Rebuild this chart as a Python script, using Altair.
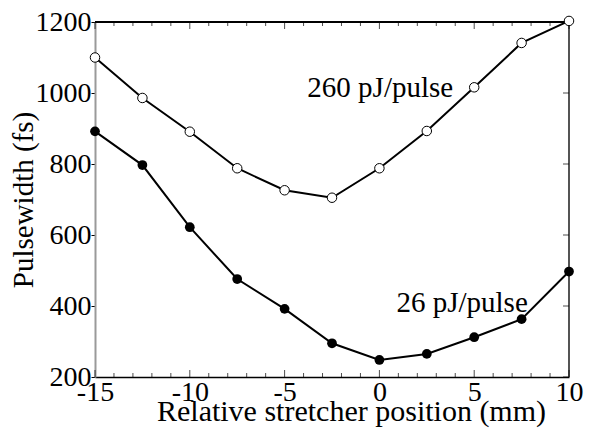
import altair as alt
import pandas as pd

# Stretcher position (mm) and measured pulse widths (fs)
positions = [-15, -12.5, -10, -7.5, -5, -2.5, 0, 2.5, 5, 7.5, 10]
width_260pj = [1100, 986, 891, 788, 726, 705, 788, 893, 1016, 1141, 1203]
width_26pj = [892, 797, 622, 476, 392, 295, 248, 265, 312, 363, 497]

x_major = [-15, -10, -5, 0, 5, 10]
x_minor = [v for v in range(-15, 11) if v % 5 != 0]
y_major = [200, 400, 600, 800, 1000, 1200]

labels = ["260 pJ/pulse", "26 pJ/pulse"]
label_x = [-3.8, 0.9]
label_y = [990, 384]

FONT = "Liberation Serif"

x_scale = alt.Scale(domain=[-15, 10], nice=False, zero=False)
y_scale = alt.Scale(domain=[200, 1200], nice=False, zero=False)
x_title = "Relative stretcher position (mm)"
y_title = "Pulsewidth (fs)"

common = dict(
    grid=False, labelFont=FONT, titleFont=FONT, labelColor="black",
    titleColor="black", titleFontWeight="normal", labelFlush=False,
    labelExpr="'' + datum.value", titleBaseline="alphabetic",
)
x_axis = alt.Axis(
    title=x_title, values=x_major, ticks=False,
    domainColor="black", domainWidth=1.5, labelPadding=1,
    labelFontSize=28, titleFontSize=30, titleX=256, titleY=43, **common,
)
y_axis = alt.Axis(
    title=y_title, values=y_major, tickSize=4, tickColor="black",
    domainColor="#9a9a9a", domainWidth=2, labelPadding=0,
    labelFontSize=28, titleFontSize=29, titleX=-63, **common,
)

high = pd.DataFrame({"pos": positions, "width": width_260pj})
low = pd.DataFrame({"pos": positions, "width": width_26pj})

def enc(chart):
    return chart.encode(
        x=alt.X("pos:Q", scale=x_scale, axis=x_axis),
        y=alt.Y("width:Q", scale=y_scale, axis=y_axis),
    )

line_high = enc(alt.Chart(high).mark_line(color="black", strokeWidth=2))
pts_high = enc(alt.Chart(high).mark_point(
    shape="circle", size=90, filled=False, fill="white", fillOpacity=1,
    stroke="black", strokeWidth=1, opacity=1))
line_low = enc(alt.Chart(low).mark_line(color="black", strokeWidth=2))
pts_low = enc(alt.Chart(low).mark_point(
    shape="circle", size=95, filled=True, color="black", opacity=1))

# Inward-pointing ticks on the frame
xmaj = pd.DataFrame({"pos": x_major})
xmin = pd.DataFrame({"pos": x_minor})
ymaj = pd.DataFrame({"width": y_major})

def xtick(df, yval, size, off):
    return alt.Chart(df).mark_tick(
        orient="vertical", size=size, thickness=1, color="black", yOffset=off
    ).encode(x=alt.X("pos:Q", scale=x_scale, axis=x_axis), y=alt.datum(yval))

ticks = [
    xtick(xmaj, 200, 7, -3.5),
    xtick(xmin, 200, 4, -2),
    xtick(xmaj, 1200, 7, 3.5),
    xtick(xmin, 1200, 4, 2),
    alt.Chart(ymaj).mark_tick(
        orient="horizontal", size=6, thickness=1, color="black", xOffset=-3
    ).encode(y=alt.Y("width:Q", scale=y_scale, axis=y_axis), x=alt.datum(10)),
]

top_edge = alt.Chart(xmaj).mark_rule(color="black", strokeWidth=1.5).encode(
    x=alt.datum(-15), x2=alt.datum(10), y=alt.datum(1200))
right_edge = alt.Chart(xmaj).mark_rule(color="#555555", strokeWidth=1.3).encode(
    x=alt.datum(10), y=alt.datum(200), y2=alt.datum(1200))

notes = alt.Chart(pd.DataFrame({"pos": label_x, "width": label_y, "label": labels})).mark_text(
    align="left", baseline="alphabetic", font=FONT, fontSize=29, color="black"
).encode(
    x=alt.X("pos:Q", scale=x_scale, axis=x_axis),
    y=alt.Y("width:Q", scale=y_scale, axis=y_axis),
    text="label:N",
)

chart = alt.layer(
    top_edge, right_edge, *ticks, line_high, line_low, pts_high, pts_low, notes
).properties(
    width=474, height=355,
    autosize=alt.AutoSizeParams(type="none"),
    padding={"left": 95, "top": 22, "right": 21, "bottom": 51},
).configure(background="white").configure_view(stroke=None)

chart.save("out.html", embed_options={"renderer": "svg", "actions": False})
